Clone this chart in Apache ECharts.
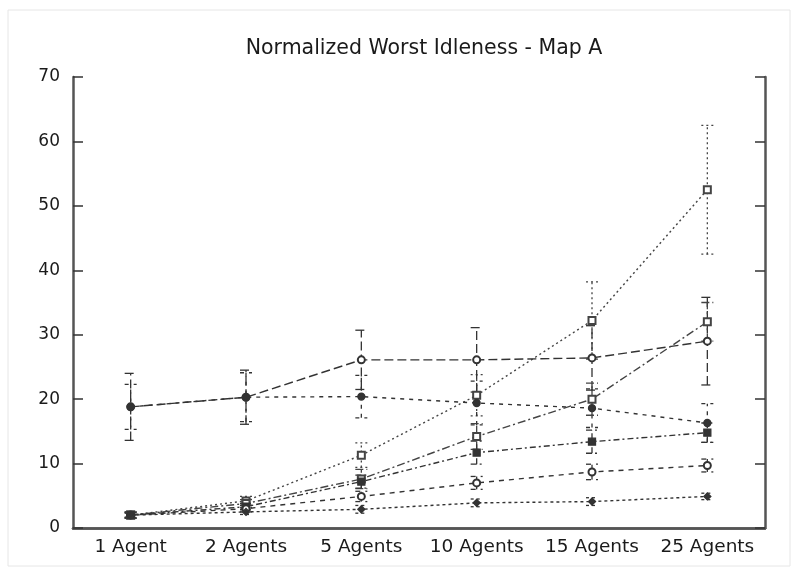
<!DOCTYPE html>
<html>
<head>
<meta charset="utf-8">
<script src="https://cdn.jsdelivr.net/npm/echarts@6/dist/echarts.min.js"></script>
<style>html,body{margin:0;padding:0;background:#fff}#c{width:797px;height:572px}</style>
</head>
<body>
<div id="c"></div>
<script>
const categories = ['1 Agent', '2 Agents', '5 Agents', '10 Agents', '15 Agents', '25 Agents'];
const yTicks = [0, 10, 20, 30, 40, 50, 60, 70];

const seriesA = [2.0, 4.2, 11.3, 20.6, 32.2, 52.5];
const errA    = [0.5, 0.7, 1.9, 3.2, 6.0, 10.0];
const seriesB = [18.8, 20.3, 26.1, 26.1, 26.4, 29.0];
const errB    = [5.2, 4.2, 4.6, 5.0, 5.0, 6.8];
const seriesC = [18.8, 20.3, 20.4, 19.4, 18.6, 16.3];
const errC    = [3.5, 3.8, 3.3, 3.4, 3.0, 3.0];
const seriesD = [2.0, 3.8, 7.6, 14.2, 20.0, 32.0];
const errD    = [0.5, 0.6, 1.5, 2.0, 2.5, 3.0];
const seriesE = [2.0, 3.3, 7.2, 11.7, 13.4, 14.8];
const errE    = [0.4, 0.5, 1.0, 1.8, 1.8, 1.5];
const seriesF = [2.0, 3.0, 4.9, 7.0, 8.7, 9.7];
const errF    = [0.4, 0.5, 0.8, 1.0, 1.2, 1.0];
const seriesG = [2.0, 2.5, 2.9, 3.9, 4.1, 4.9];
const errG    = [0.3, 0.4, 0.6, 0.6, 0.6, 0.5];

const styles = [
  {name: 'A', vals: seriesA, errs: errA, dash: [2, 3], sym: 'emptyRect', color: '#444'},
  {name: 'B', vals: seriesB, errs: errB, dash: [9, 4], sym: 'emptyCircle', color: '#333'},
  {name: 'C', vals: seriesC, errs: errC, dash: [4, 5], sym: 'circle', color: '#333'},
  {name: 'D', vals: seriesD, errs: errD, dash: [8, 3, 2, 3], sym: 'emptyRect', color: '#444'},
  {name: 'E', vals: seriesE, errs: errE, dash: [6, 3, 2, 3], sym: 'rect', color: '#333'},
  {name: 'F', vals: seriesF, errs: errF, dash: [5, 5], sym: 'emptyCircle', color: '#333'},
  {name: 'G', vals: seriesG, errs: errG, dash: [3, 3], sym: 'diamond', color: '#333'}
];

const font = 'DejaVu Sans';
const series = [];
styles.forEach(s => {
  series.push({
    type: 'line', name: s.name, data: s.vals,
    symbol: s.sym, symbolSize: 7, z: 3,
    lineStyle: {color: s.color, width: 1.4, type: s.dash},
    itemStyle: {color: s.color, borderColor: s.color, borderWidth: 1.3},
    emphasis: {disabled: true}
  });
  series.push({
    type: 'custom', name: s.name + '_err', z: 2,
    data: s.vals.map((v, i) => [i, v - s.errs[i], v + s.errs[i]]),
    renderItem: function (params, api) {
      const lo = api.coord([api.value(0), api.value(1)]);
      const hi = api.coord([api.value(0), api.value(2)]);
      const w = 6;
      const st = {stroke: s.color, lineWidth: 1.3, lineDash: s.dash, fill: null};
      return {type: 'group', children: [
        {type: 'line', shape: {x1: lo[0], y1: lo[1], x2: hi[0], y2: hi[1]}, style: st},
        {type: 'line', shape: {x1: lo[0] - w, y1: lo[1], x2: lo[0] + w, y2: lo[1]}, style: st},
        {type: 'line', shape: {x1: hi[0] - w, y1: hi[1], x2: hi[0] + w, y2: hi[1]}, style: st}
      ]};
    }
  });
});

const chart = echarts.init(document.getElementById('c'), null, {renderer: 'canvas'});
chart.setOption({
  animation: false,
  backgroundColor: '#fff',
  title: {
    text: 'Normalized Worst Idleness - Map A', left: 419, textAlign: 'center', top: 33,
    textStyle: {fontFamily: font, fontSize: 20.5, fontWeight: 'normal', color: '#1a1a1a'}
  },
  graphic: [{type: 'rect', shape: {x: 8, y: 10, width: 782, height: 556},
    style: {fill: null, stroke: '#e6e6e6', lineWidth: 1}, silent: true}],
  grid: {left: 73, right: 32, top: 77, bottom: 44},
  xAxis: [
    {type: 'category', data: categories, position: 'bottom',
      axisLine: {lineStyle: {color: '#555', width: 2.5}},
      axisTick: {inside: true, alignWithLabel: true, length: 10, lineStyle: {color: '#333', width: 1.5}},
      axisLabel: {fontFamily: font, fontSize: 18.5, color: '#1a1a1a', margin: 10, interval: 0, hideOverlap: false}},
    {type: 'category', data: categories, position: 'top',
      axisLine: {lineStyle: {color: '#555', width: 2.5}},
      axisTick: {inside: true, alignWithLabel: true, length: 10, lineStyle: {color: '#333', width: 1.5}},
      axisLabel: {show: false}}
  ],
  yAxis: [
    {type: 'value', min: 0, max: 70, interval: 10, position: 'left',
      axisLine: {show: true, lineStyle: {color: '#555', width: 2.5}},
      axisTick: {show: true, inside: true, length: 10, lineStyle: {color: '#333', width: 1.5}},
      splitLine: {show: false},
      axisLabel: {fontFamily: font, fontSize: 17, color: '#1a1a1a', margin: 13,
        formatter: v => yTicks.includes(v) ? String(v) : ''}},
    {type: 'value', min: 0, max: 70, interval: 10, position: 'right',
      axisLine: {show: true, lineStyle: {color: '#555', width: 2.5}},
      axisTick: {show: true, inside: true, length: 10, lineStyle: {color: '#333', width: 1.5}},
      splitLine: {show: false}, axisLabel: {show: false}}
  ],
  series: series
});
</script>
</body>
</html>
